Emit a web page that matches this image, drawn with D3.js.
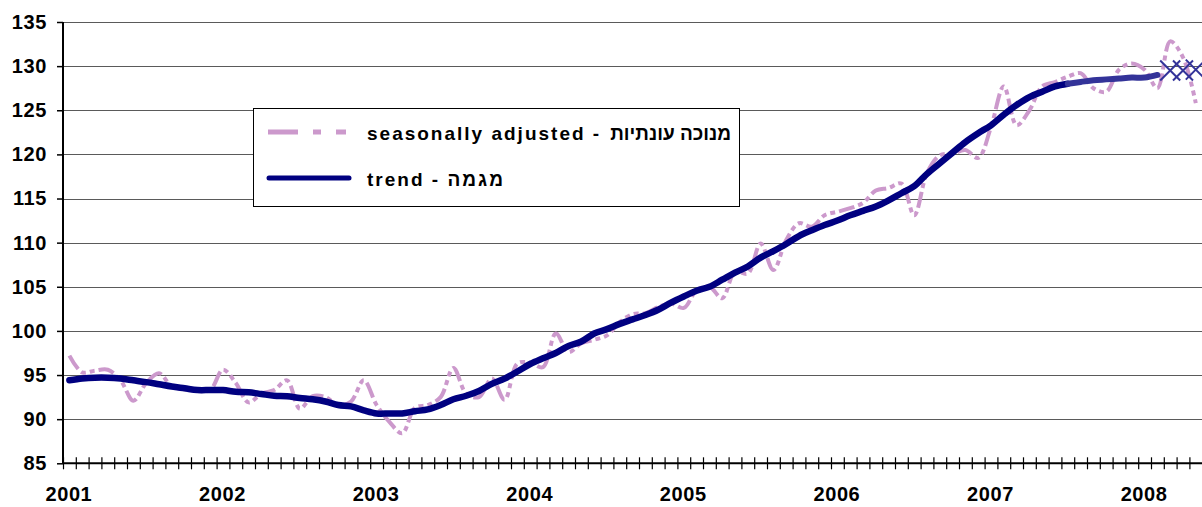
<!DOCTYPE html>
<html>
<head>
<meta charset="utf-8">
<script src="https://cdn.jsdelivr.net/npm/d3@7"></script>
<style>
  body { margin: 0; background: #fff; }
  svg { display: block; font-family: "Liberation Sans", Arial, sans-serif; font-weight: bold; }
</style>
</head>
<body>
<svg id="chart"></svg>
<script>
// monthly index, Jan 2001 .. May 2008 (89 categories)
let years = ["2001","2002","2003","2004","2005","2006","2007","2008"]
let months = d3.range(89)   // category index, label shown on each January

// seasonally adjusted - מנוכה עונתיות
let saValues = [
  97.2, 95.3, 95.5, 95.6, 94.4, 92.1, 94.1, 95.2, 93.7, 93.4, 93.2, 93.3,
  95.6, 94.1, 91.9, 92.9, 93.3, 94.4, 91.2, 92.6, 92.5, 91.6, 92.0, 94.4,
  91.6, 89.7, 88.4, 91.3, 91.6, 92.5, 95.8, 92.9, 92.5, 94.6, 92.2, 96.3,
  96.4, 95.9, 99.7, 97.6, 98.6, 99.0, 99.5, 101.0, 101.9, 102.0, 102.7, 103.1,
  102.6, 104.6, 105.0, 103.7, 106.7, 106.5, 109.9, 106.9, 110.3, 112.2, 111.8, 113.1,
  113.5, 113.9, 114.5, 115.9, 116.2, 116.7, 113.1, 117.9, 119.9, 120.1, 120.5, 119.6,
  123.1, 127.7, 123.3, 125.0, 127.7, 128.2, 128.8, 129.2, 127.5, 127.1, 129.6, 130.3,
  129.6, 127.5, 132.8, 131.0, 125.8
]

// trend - מגמה
let trendValues = [
  94.4, 94.6, 94.7, 94.7, 94.6, 94.4, 94.2, 93.95, 93.7, 93.5, 93.3, 93.3,
  93.3, 93.1, 93.05, 92.85, 92.65, 92.6, 92.4, 92.25, 92.0, 91.6, 91.45, 91.0,
  90.65, 90.65, 90.65, 90.9, 91.1, 91.6, 92.25, 92.65, 93.2, 94.0, 94.6, 95.4,
  96.25, 96.9, 97.5, 98.3, 98.8, 99.7, 100.2, 100.8, 101.3, 101.8, 102.4, 103.2,
  103.9, 104.55, 105.0, 105.8, 106.6, 107.3, 108.3, 109.05, 109.85, 110.75, 111.4, 112.0,
  112.5, 113.1, 113.6, 114.1, 114.8, 115.6, 116.4, 117.8, 119.0, 120.2, 121.4, 122.4,
  123.3, 124.5, 125.6, 126.5, 127.1, 127.7, 128.0, 128.2, 128.4, 128.5, 128.6, 128.7,
  128.7, 129.0
]
let trendRecentFrom = 78          // last months of the trend, drawn lighter
let forecastIndex = [86, 87, 88]  // trend forecast, X markers
let forecastValues = [129.5, 129.5, 129.6]

let yTicks = [85, 90, 95, 100, 105, 110, 115, 120, 125, 130, 135]

let width = 1202
let height = 507
let plotLeft = 63, plotRight = 1202.2, plotTop = 22, plotBottom = 463.3

let svg = d3.select('#chart').attr('width', width).attr('height', height)
svg.append('rect').attr('width', width).attr('height', height).attr('fill', '#fff')

let xScale = d3.scaleLinear().domain([0, months.length]).range([plotLeft, plotRight])
let yScale = d3.scaleLinear().domain([85, 135]).range([plotBottom, plotTop])
let xc = (i) => xScale(i + 0.5)

// gridlines
svg.append('g')
  .selectAll('line')
  .data(yTicks.slice(1))
  .enter()
  .append('line')
  .attr('x1', plotLeft).attr('x2', plotRight)
  .attr('y1', d => Math.round(yScale(d)) + 0.5)
  .attr('y2', d => Math.round(yScale(d)) + 0.5)
  .attr('stroke', '#5a5a5a').attr('stroke-width', 1)

// y axis
let yAxis = d3.axisLeft(yScale).tickValues(yTicks).tickSize(6).tickPadding(10)
let gy = svg.append('g').attr('transform', 'translate(' + plotLeft + ',0)').call(yAxis)
gy.select('.domain').remove()
gy.selectAll('line').attr('stroke', '#000').attr('stroke-width', 1.5)
gy.selectAll('text').attr('font-size', 20).attr('letter-spacing', 0.6).attr('fill', '#000')
svg.append('line').attr('x1', plotLeft).attr('x2', plotLeft).attr('y1', plotTop).attr('y2', plotBottom)
  .attr('stroke', '#000').attr('stroke-width', 2)

// x axis: cross ticks at category edges
let xAxis = d3.axisBottom(xScale).tickValues(d3.range(0, months.length + 1)).tickFormat('').tickSize(6)
let gx = svg.append('g').attr('transform', 'translate(0,' + plotBottom + ')').call(xAxis)
gx.select('.domain').remove()
gx.selectAll('line').attr('y1', -6).attr('y2', 6).attr('stroke', '#000').attr('stroke-width', 1.2)
svg.append('line').attr('x1', plotLeft).attr('x2', plotRight).attr('y1', plotBottom).attr('y2', plotBottom)
  .attr('stroke', '#000').attr('stroke-width', 2)

// year labels on each January
let yearAxis = d3.axisBottom(xScale)
  .tickValues(years.map((y, k) => k * 12 + 0.5))
  .tickFormat((d, k) => years[k])
  .tickSize(0).tickPadding(24)
let gyr = svg.append('g').attr('transform', 'translate(-1,' + plotBottom + ')').call(yearAxis)
gyr.select('.domain').remove()
gyr.selectAll('text').attr('font-size', 20).attr('letter-spacing', 0.6).attr('fill', '#000')

// seasonally adjusted line
let saLine = d3.line().x((d, i) => xc(i)).y(d => yScale(d)).curve(d3.curveCatmullRom)
svg.append('path')
  .datum(saValues)
  .attr('d', saLine)
  .attr('fill', 'none')
  .attr('stroke', '#cc99cc')
  .attr('stroke-width', 4)
  .attr('stroke-dasharray', '16,4,5,4,5,4')

// trend line
let trendLine = d3.line().x(d => xc(d[0])).y(d => yScale(d[1])).curve(d3.curveCatmullRom)
let trendPts = trendValues.map((v, i) => [i, v])
svg.append('path')
  .datum(trendPts.slice(0, trendRecentFrom + 1))
  .attr('d', trendLine)
  .attr('fill', 'none')
  .attr('stroke', '#000080')
  .attr('stroke-width', 6.5)
  .attr('stroke-linecap', 'round')
svg.append('path')
  .datum(trendPts.slice(trendRecentFrom))
  .attr('d', trendLine)
  .attr('fill', 'none')
  .attr('stroke', '#333399')
  .attr('stroke-width', 6)
  .attr('stroke-linecap', 'round')

// forecast X markers
svg.append('g')
  .selectAll('path')
  .data(forecastIndex)
  .enter()
  .append('path')
  .attr('d', 'M-10,-10L10,10M-10,10L10,-10')
  .attr('transform', (d, k) => 'translate(' + xc(d) + ',' + yScale(forecastValues[k]) + ')')
  .attr('fill', 'none')
  .attr('stroke', '#333399')
  .attr('stroke-width', 2)

// legend
let legend = svg.append('g')
legend.append('rect')
  .attr('x', 253.5).attr('y', 108.5).attr('width', 486).attr('height', 98)
  .attr('fill', '#fff').attr('stroke', '#000').attr('stroke-width', 1)
legend.append('line')
  .attr('x1', 268).attr('x2', 348).attr('y1', 132).attr('y2', 132)
  .attr('stroke', '#cc99cc').attr('stroke-width', 5)
  .attr('stroke-dasharray', '30,15,8,15,10,20')
legend.append('line')
  .attr('x1', 269).attr('x2', 349).attr('y1', 178).attr('y2', 178)
  .attr('stroke', '#000080').attr('stroke-width', 5).attr('stroke-linecap', 'round')
legend.append('text')
  .attr('x', 367).attr('y', 139.5)
  .attr('font-size', 19).attr('letter-spacing', 2)
  .text('seasonally adjusted -')
legend.append('text')
  .attr('x', 731).attr('y', 139.5)
  .attr('text-anchor', 'end')
  .attr('font-size', 19).attr('letter-spacing', 0)
  .text('מנוכה עונתיות')
legend.append('text')
  .attr('x', 367).attr('y', 186)
  .attr('font-size', 19).attr('letter-spacing', 2)
  .text('trend - מגמה')
</script>
</body>
</html>
